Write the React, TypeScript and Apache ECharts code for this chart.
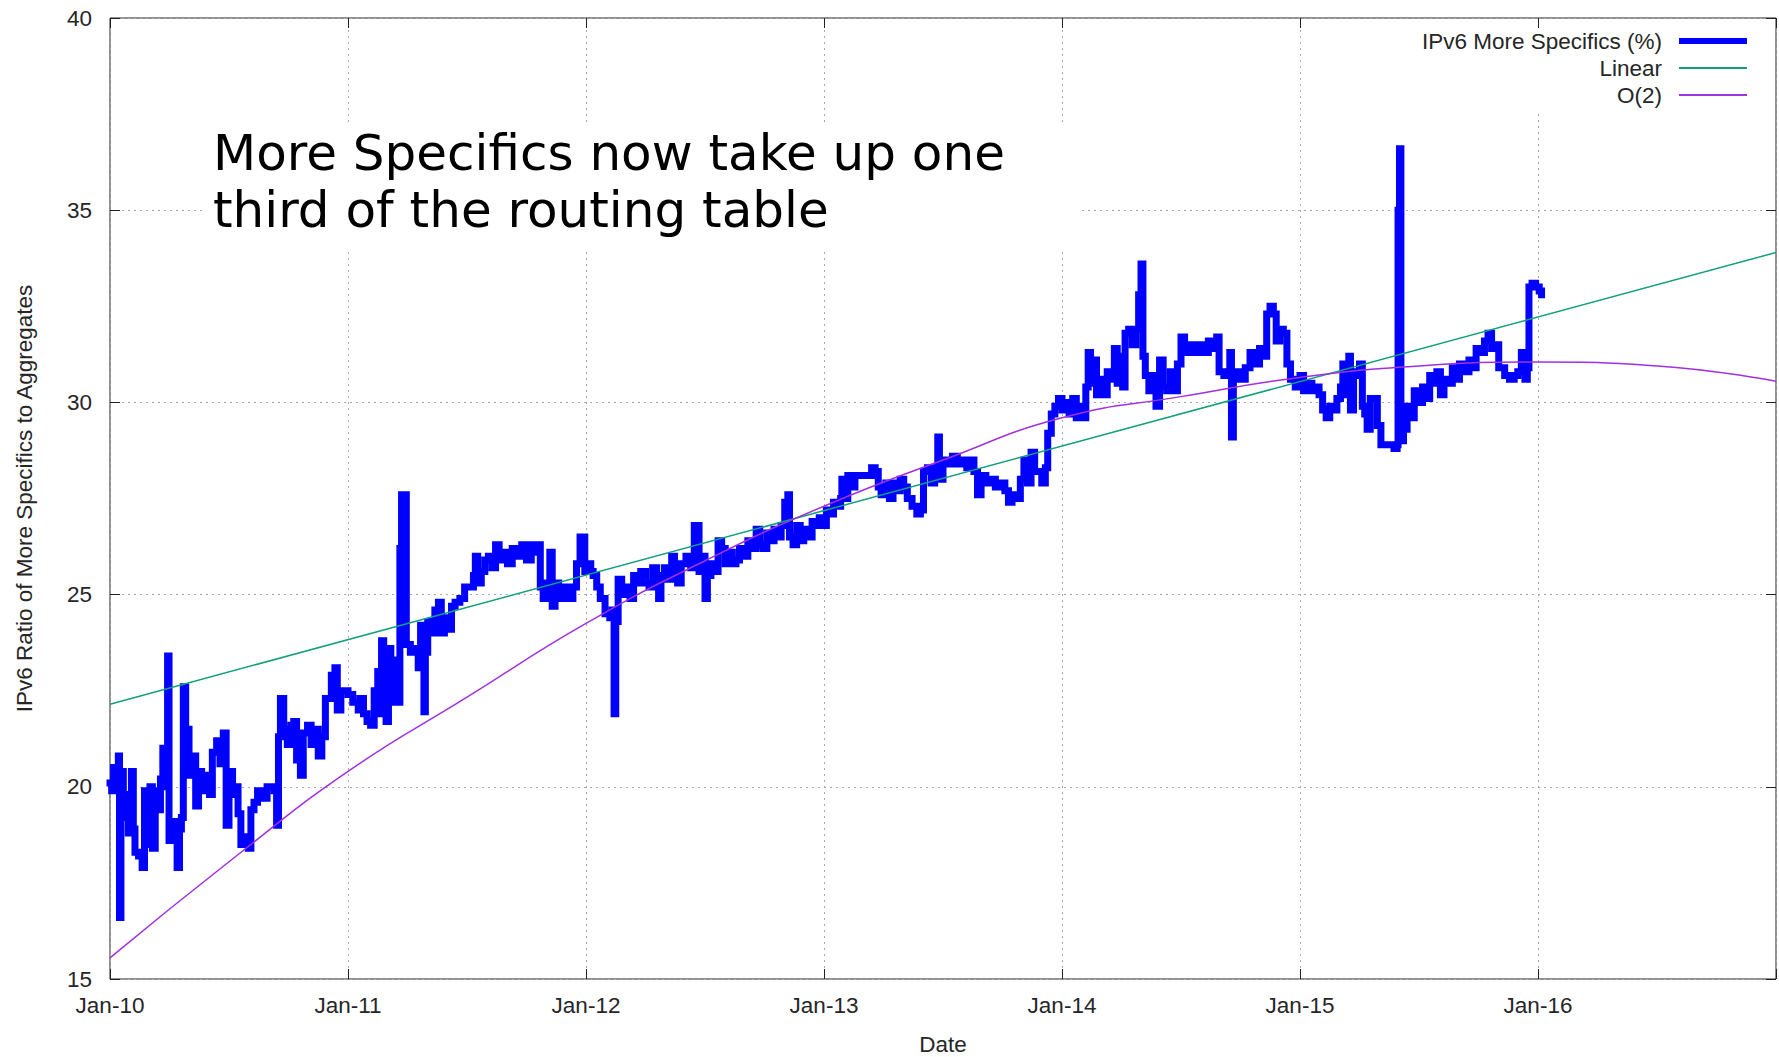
import React, { useEffect, useRef } from "react";
import * as echarts from "echarts";

// Daily share of IPv6 more-specific prefixes, as [decimal year, percent]
const ratio2010: [number, number][] = [
  [2010.0, 20.1], [2010.007, 19.9], [2010.015, 20.5], [2010.025, 20.2], [2010.035, 20.8], [2010.04, 16.6],
  [2010.046, 20.4], [2010.056, 19.2], [2010.066, 19.8], [2010.077, 18.8], [2010.09, 20.4], [2010.098, 18.9],
  [2010.105, 18.3], [2010.12, 18.2], [2010.135, 17.9], [2010.145, 19.9], [2010.155, 18.5], [2010.168, 20.0],
  [2010.178, 18.4], [2010.19, 19.9], [2010.203, 19.4], [2010.212, 20.2], [2010.222, 21.0], [2010.231, 20.0],
  [2010.242, 23.4], [2010.248, 18.6], [2010.262, 19.1], [2010.275, 18.6], [2010.282, 17.9], [2010.292, 18.9],
  [2010.3, 19.2], [2010.308, 22.6], [2010.318, 21.5], [2010.332, 20.3], [2010.345, 20.8], [2010.36, 19.5],
  [2010.372, 20.4], [2010.385, 19.9], [2010.4, 20.3], [2010.418, 19.8], [2010.43, 20.9], [2010.448, 21.2],
  [2010.462, 20.6], [2010.476, 21.4], [2010.488, 19.0], [2010.5, 20.4], [2010.515, 19.8], [2010.525, 20.0],
  [2010.538, 19.3], [2010.55, 18.5], [2010.565, 18.7], [2010.581, 18.4], [2010.592, 19.4], [2010.605, 19.6],
  [2010.62, 19.9], [2010.64, 19.7], [2010.66, 20.0], [2010.69, 19.9], [2010.7, 19.0], [2010.708, 21.3],
  [2010.716, 22.3], [2010.73, 21.5], [2010.745, 21.1], [2010.76, 21.6], [2010.772, 21.7], [2010.784, 20.7],
  [2010.8, 20.3], [2010.812, 21.4], [2010.83, 21.6], [2010.845, 21.1], [2010.86, 21.5], [2010.875, 20.8],
  [2010.89, 21.3], [2010.905, 22.3], [2010.93, 22.9], [2010.945, 23.1], [2010.955, 22.0], [2010.97, 22.5],
  [2010.985, 22.5],
];

const ratio2011: [number, number][] = [
  [2011.0, 22.4], [2011.02, 22.2], [2011.043, 22.0], [2011.05, 22.3], [2011.065, 21.9], [2011.08, 21.7],
  [2011.095, 21.6], [2011.11, 22.5], [2011.125, 23.0], [2011.135, 21.9], [2011.141, 23.8], [2011.15, 22.5],
  [2011.16, 21.7], [2011.17, 23.6], [2011.18, 22.2], [2011.19, 23.3], [2011.205, 22.3], [2011.211, 22.2],
  [2011.218, 26.2], [2011.225, 27.6], [2011.24, 27.6], [2011.245, 23.7], [2011.262, 23.5], [2011.28, 23.6],
  [2011.295, 23.1], [2011.305, 24.2], [2011.312, 23.1], [2011.319, 21.95], [2011.325, 23.5], [2011.335, 24.3],
  [2011.35, 24.0], [2011.365, 24.6], [2011.38, 24.8], [2011.392, 24.0], [2011.405, 24.4], [2011.42, 24.1],
  [2011.435, 24.7], [2011.45, 24.8], [2011.47, 24.9], [2011.49, 25.2], [2011.51, 25.2], [2011.527, 25.5],
  [2011.535, 26.0], [2011.545, 25.3], [2011.56, 25.6], [2011.575, 25.9], [2011.59, 26.0], [2011.605, 25.7],
  [2011.62, 26.3], [2011.635, 25.9], [2011.65, 26.1], [2011.67, 25.8], [2011.69, 26.2], [2011.71, 26.0],
  [2011.73, 26.3], [2011.75, 25.9], [2011.77, 26.3], [2011.79, 26.1], [2011.8, 26.3], [2011.808, 25.2],
  [2011.82, 24.9], [2011.835, 25.3], [2011.848, 26.1], [2011.858, 24.7], [2011.87, 25.3], [2011.885, 24.9],
  [2011.905, 25.2], [2011.925, 24.9], [2011.945, 25.2], [2011.96, 25.8], [2011.975, 26.5], [2011.985, 26.5],
  [2011.995, 25.6],
];

const ratio2012: [number, number][] = [
  [2012.005, 25.8], [2012.02, 25.6], [2012.03, 25.5], [2012.045, 25.2], [2012.06, 24.9], [2012.08, 24.5],
  [2012.1, 24.4], [2012.11, 24.6], [2012.118, 21.9], [2012.125, 24.3], [2012.135, 25.4], [2012.15, 25.0],
  [2012.165, 25.2], [2012.185, 24.9], [2012.2, 25.5], [2012.215, 25.3], [2012.23, 25.6], [2012.25, 25.3],
  [2012.265, 25.2], [2012.28, 25.7], [2012.297, 25.5], [2012.305, 24.9], [2012.315, 25.4], [2012.33, 25.7],
  [2012.345, 25.4], [2012.36, 26.0], [2012.372, 25.6], [2012.385, 25.3], [2012.4, 25.8], [2012.42, 26.0],
  [2012.44, 25.7], [2012.455, 26.8], [2012.465, 26.8], [2012.475, 25.6], [2012.49, 26.0], [2012.5, 24.9],
  [2012.51, 25.5], [2012.525, 25.8], [2012.54, 25.6], [2012.555, 26.4], [2012.57, 26.2], [2012.585, 25.8],
  [2012.6, 26.1], [2012.615, 25.8], [2012.63, 25.9], [2012.645, 26.2], [2012.66, 26.0], [2012.68, 26.4],
  [2012.7, 26.2], [2012.715, 26.7], [2012.73, 26.3], [2012.745, 26.2], [2012.76, 26.6], [2012.775, 26.4],
  [2012.79, 26.7], [2012.805, 26.5], [2012.82, 26.8], [2012.835, 27.4], [2012.848, 27.6], [2012.855, 26.5],
  [2012.87, 26.3], [2012.885, 26.8], [2012.9, 26.4], [2012.915, 26.7], [2012.93, 26.5], [2012.95, 26.9],
  [2012.965, 26.8], [2012.98, 27.0], [2012.995, 26.8],
];

const ratio2013: [number, number][] = [
  [2013.01, 27.2], [2013.025, 27.1], [2013.04, 27.4], [2013.055, 27.3], [2013.07, 27.5], [2013.075, 28.0],
  [2013.09, 27.5], [2013.1, 28.1], [2013.115, 27.8], [2013.13, 28.1], [2013.16, 28.1], [2013.19, 28.1],
  [2013.2, 28.3], [2013.215, 28.2], [2013.228, 27.8], [2013.24, 27.6], [2013.26, 27.9], [2013.275, 27.5],
  [2013.29, 27.9], [2013.305, 27.7], [2013.32, 28.0], [2013.335, 27.8], [2013.35, 27.5], [2013.37, 27.3],
  [2013.39, 27.1], [2013.405, 27.2], [2013.418, 28.2], [2013.435, 28.3], [2013.45, 27.9], [2013.465, 28.3],
  [2013.478, 29.1], [2013.485, 28.0], [2013.5, 28.5], [2013.52, 28.4], [2013.54, 28.6], [2013.56, 28.4],
  [2013.58, 28.5], [2013.6, 28.3], [2013.615, 28.5], [2013.63, 28.2], [2013.645, 27.6], [2013.66, 28.1],
  [2013.68, 27.9], [2013.7, 28.0], [2013.72, 27.8], [2013.74, 27.9], [2013.76, 27.7], [2013.775, 27.4],
  [2013.79, 27.6], [2013.81, 27.5], [2013.825, 28.0], [2013.84, 28.5], [2013.855, 27.9], [2013.87, 28.7],
  [2013.885, 28.2], [2013.9, 28.2], [2013.915, 27.9], [2013.93, 28.3], [2013.94, 29.2], [2013.955, 29.7],
  [2013.97, 29.9], [2013.985, 30.1],
];

const ratio2014: [number, number][] = [
  [2014.0, 29.8], [2014.015, 30.0], [2014.03, 29.7], [2014.045, 30.1], [2014.06, 29.6], [2014.075, 29.9],
  [2014.09, 29.6], [2014.1, 30.4], [2014.11, 31.3], [2014.12, 30.5], [2014.13, 31.1], [2014.145, 30.2],
  [2014.16, 30.6], [2014.175, 30.2], [2014.19, 30.8], [2014.205, 30.6], [2014.22, 31.4], [2014.232, 30.5],
  [2014.245, 31.2], [2014.255, 30.4], [2014.265, 31.8], [2014.28, 31.9], [2014.295, 31.5], [2014.31, 31.9],
  [2014.322, 32.8], [2014.332, 33.6], [2014.34, 31.2], [2014.35, 30.7], [2014.365, 30.3], [2014.38, 30.7],
  [2014.395, 29.9], [2014.41, 31.1], [2014.425, 30.4], [2014.44, 30.3], [2014.455, 30.8], [2014.47, 30.3],
  [2014.485, 31.0], [2014.5, 31.7], [2014.515, 31.3], [2014.535, 31.5], [2014.555, 31.3], [2014.575, 31.5],
  [2014.595, 31.3], [2014.615, 31.6], [2014.63, 31.4], [2014.65, 31.7], [2014.66, 30.8], [2014.68, 30.7],
  [2014.7, 30.8], [2014.705, 31.3], [2014.712, 29.1], [2014.72, 30.6], [2014.735, 30.8], [2014.75, 30.6],
  [2014.77, 30.9], [2014.79, 31.3], [2014.81, 31.0], [2014.83, 31.4], [2014.845, 31.2], [2014.86, 32.3],
  [2014.874, 32.5], [2014.888, 32.3], [2014.9, 31.6], [2014.915, 31.9], [2014.93, 31.8], [2014.945, 31.0],
  [2014.96, 30.6], [2014.98, 30.4],
];

const ratio2015: [number, number][] = [
  [2015.0, 30.7], [2015.015, 30.3], [2015.03, 30.5], [2015.05, 30.3], [2015.065, 30.4], [2015.08, 30.2],
  [2015.095, 29.8], [2015.11, 29.6], [2015.125, 29.9], [2015.14, 29.8], [2015.155, 30.1], [2015.17, 30.4],
  [2015.18, 31.0], [2015.195, 30.2], [2015.205, 31.2], [2015.212, 29.8], [2015.225, 30.7], [2015.24, 30.8],
  [2015.25, 31.0], [2015.262, 29.9], [2015.272, 29.7], [2015.282, 29.3], [2015.295, 30.1], [2015.31, 30.1],
  [2015.325, 29.4], [2015.34, 28.9], [2015.36, 28.9], [2015.38, 28.9], [2015.395, 28.8], [2015.408, 28.9],
  [2015.412, 35.0], [2015.418, 36.6], [2015.424, 29.0], [2015.435, 29.3], [2015.45, 29.9], [2015.465, 29.6],
  [2015.48, 30.3], [2015.5, 30.0], [2015.515, 30.4], [2015.53, 30.1], [2015.545, 30.7], [2015.56, 30.5],
  [2015.575, 30.8], [2015.59, 30.2], [2015.605, 30.6], [2015.62, 30.5], [2015.64, 30.9], [2015.655, 30.6],
  [2015.67, 31.0], [2015.69, 30.8], [2015.71, 31.1], [2015.725, 30.9], [2015.74, 31.4], [2015.76, 31.3],
  [2015.775, 31.6], [2015.79, 31.8], [2015.805, 31.4], [2015.82, 31.5], [2015.835, 30.9], [2015.86, 30.7],
  [2015.88, 30.6], [2015.9, 30.7], [2015.915, 30.8], [2015.93, 31.3], [2015.945, 30.6], [2015.955, 30.9],
  [2015.962, 33.0], [2015.975, 33.1], [2015.99, 33.0], [2016.005, 32.9], [2016.015, 32.8],
];

// Fitted trends
const linearFitYears = [2010, 2017];
const linearFitPct = [22.15, 33.9];
const quadFitYears = [2010, 2010.5, 2011, 2011.5, 2012, 2012.5, 2013, 2013.5, 2014, 2014.5, 2015, 2015.5, 2016, 2016.5, 2017];
const quadFitPct = [15.55, 18.05, 20.4, 22.33, 24.25, 25.88, 27.3, 28.5, 29.6, 30.15, 30.65, 30.95, 31.05, 30.95, 30.55];

// Axis settings
const yearTicks = [2010, 2011, 2012, 2013, 2014, 2015, 2016];
const yTickStep = 5;
const yMin = 15;
const yMax = 40;

const seriesNames = ["IPv6 More Specifics (%)", "Linear", "O(2)"];
const seriesColors = ["#0000ff", "#12a07a", "#a030e0"];

const FONT = '"Liberation Sans", Arial, Helvetica, sans-serif';
const FONT_SIZE = 22.5;
const TEXT_COLOR = "#262626";

const zip = (xs: number[], ys: number[]) => xs.map((x, i) => [x, ys[i]]);

function buildOption(): echarts.EChartsOption {
  const ratioData = [...ratio2010, ...ratio2011, ...ratio2012, ...ratio2013, ...ratio2014, ...ratio2015];
  const gridLine = { show: true, lineStyle: { color: "#a8a8a8", type: [2, 4] as number[], width: 1 } };
  const tick = { show: true, inside: true, length: 10, lineStyle: { color: "#222", width: 1 } };
  const labelText = { fontFamily: FONT, fontSize: FONT_SIZE, color: TEXT_COLOR };

  const legendRow = (name: string, top: number, height: number) => ({
    data: [name],
    right: 32,
    top,
    orient: "horizontal" as const,
    align: "right" as const,
    padding: 0,
    icon: "rect",
    itemWidth: 68,
    itemHeight: height,
    selectedMode: false,
    textStyle: { ...labelText, lineHeight: 26, padding: [0, 12, 0, 0] },
  });

  return {
    animation: false,
    backgroundColor: "#ffffff",
    grid: {
      left: 110,
      right: 3,
      top: 18,
      bottom: 78,
      outerBoundsMode: "none",
      show: true,
      borderColor: "#222",
      borderWidth: 1,
      backgroundColor: "transparent",
    },
    xAxis: [
      {
        type: "value",
        min: 2010,
        max: 2017,
        interval: 1,
        name: "Date",
        nameLocation: "middle",
        nameGap: 54,
        nameTextStyle: labelText,
        axisLine: { show: false },
        axisTick: tick,
        axisLabel: {
          ...labelText,
          margin: 15,
          formatter: (v: number) => (yearTicks.includes(v) ? `Jan-${String(v).slice(2)}` : ""),
        },
        splitLine: gridLine,
      },
      {
        type: "value",
        position: "top",
        min: 2010,
        max: 2017,
        interval: 1,
        axisLine: { show: false },
        axisTick: tick,
        axisLabel: { show: false },
        splitLine: { show: false },
      },
    ],
    yAxis: [
      {
        type: "value",
        min: yMin,
        max: yMax,
        interval: yTickStep,
        name: "IPv6 Ratio of More Specifics to Aggregates",
        nameLocation: "middle",
        nameGap: 74,
        nameTextStyle: labelText,
        axisLine: { show: false },
        axisTick: tick,
        axisLabel: { ...labelText, margin: 18 },
        splitLine: gridLine,
      },
      {
        type: "value",
        position: "right",
        min: yMin,
        max: yMax,
        interval: yTickStep,
        axisLine: { show: false },
        axisTick: tick,
        axisLabel: { show: false },
        splitLine: { show: false },
      },
    ],
    legend: [
      legendRow(seriesNames[0], 28, 6),
      legendRow(seriesNames[1], 55, 2),
      legendRow(seriesNames[2], 82, 2),
    ],
    graphic: [
      // white panels behind the note and the key, masking the grid
      { type: "rect", z: 1, silent: true, shape: { x: 205, y: 122, width: 873, height: 130 }, style: { fill: "#ffffff" } },
      { type: "rect", z: 1, silent: true, shape: { x: 1400, y: 29, width: 374, height: 81 }, style: { fill: "#ffffff" } },
      {
        type: "text",
        z: 5,
        x: 213,
        y: 124,
        silent: true,
        style: {
          text: "More Specifics now take up one\nthird of the routing table",
          font: '50px "DejaVu Sans", sans-serif',
          lineHeight: 57,
          fill: "#000000",
          verticalAlign: "top",
        },
      },
    ],
    series: [
      {
        name: seriesNames[0],
        type: "line",
        data: ratioData,
        step: "end",
        showSymbol: false,
        symbol: "none",
        color: seriesColors[0],
        lineStyle: { color: seriesColors[0], width: 7, join: "miter", cap: "square" },
        z: 3,
      },
      {
        name: seriesNames[1],
        type: "line",
        data: zip(linearFitYears, linearFitPct),
        showSymbol: false,
        symbol: "none",
        color: seriesColors[1],
        lineStyle: { color: seriesColors[1], width: 1.5 },
        z: 4,
      },
      {
        name: seriesNames[2],
        type: "line",
        data: zip(quadFitYears, quadFitPct),
        smooth: true,
        showSymbol: false,
        symbol: "none",
        color: seriesColors[2],
        lineStyle: { color: seriesColors[2], width: 1.5 },
        z: 4,
      },
    ],
  };
}

export default function App() {
  const ref = useRef<HTMLDivElement>(null);

  useEffect(() => {
    if (!ref.current) return;
    const chart = echarts.init(ref.current, null, { renderer: "svg" });
    chart.setOption(buildOption());
    return () => chart.dispose();
  }, []);

  return (
    <div
      ref={ref}
      style={{ position: "fixed", left: 0, top: 0, width: 1779, height: 1057, background: "#ffffff" }}
    />
  );
}
